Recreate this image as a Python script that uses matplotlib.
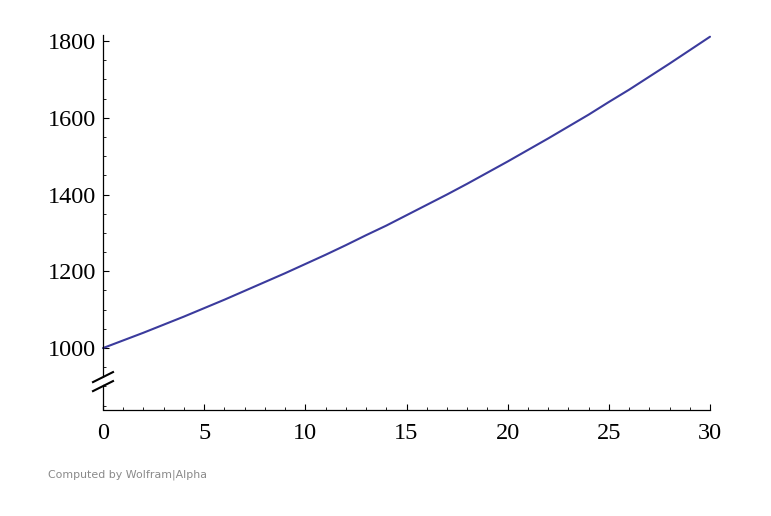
import matplotlib
matplotlib.use("Agg")
import matplotlib.pyplot as plt
from matplotlib.ticker import MultipleLocator
from matplotlib.patches import Polygon

# Values (one per year)
years = list(range(0, 31))
values = [1000, 1020, 1040, 1061, 1082, 1104, 1126, 1149, 1172, 1195,
          1219, 1243, 1268, 1294, 1319, 1346, 1373, 1400, 1428, 1457,
          1486, 1516, 1546, 1577, 1608, 1641, 1673, 1707, 1741, 1776, 1811]
xticks = [0, 5, 10, 15, 20, 25, 30]
yticks = [1000, 1200, 1400, 1600, 1800]

W, H = 771, 516
fig = plt.figure(figsize=(W / 100, H / 100), dpi=100)
left, right, top, bottom = 103, 710, 35.2, 409.5
ax = fig.add_axes([left / W, 1 - bottom / H, (right - left) / W, (bottom - top) / H])

ax.plot(years, values, color="#3b3b9d", lw=1.5, solid_capstyle="round", clip_on=False)
ax.set_xlim(0, 30)
ax.set_ylim(840, 1815)

for s in ["top", "right"]:
    ax.spines[s].set_visible(False)
for s in ["left", "bottom"]:
    ax.spines[s].set_linewidth(0.9)

ax.set_xticks(xticks)
ax.set_yticks(yticks)
ax.xaxis.set_minor_locator(MultipleLocator(1))
ax.yaxis.set_minor_locator(MultipleLocator(50))
ax.tick_params(which="major", direction="in", length=4, width=0.8, labelsize=17.5)
ax.tick_params(which="minor", direction="in", length=2.2, width=0.6)
ax.tick_params(axis="x", which="major", pad=9.5)
ax.tick_params(axis="y", which="major", pad=5)
for lbl in ax.get_xticklabels() + ax.get_yticklabels():
    lbl.set_fontfamily("Liberation Serif")

# axis break marks
def px2x(px):
    return (px - 103) / 607 * 30
def py2y(py):
    return 1000 - (py - 348) / 0.38375

gap = Polygon([(px2x(93), py2y(383)), (px2x(113), py2y(373)),
               (px2x(113), py2y(380)), (px2x(93), py2y(390))],
              closed=True, facecolor="white", edgecolor="none", clip_on=False, zorder=5)
ax.add_patch(gap)
for (y1, y2) in [(382, 372), (391, 381)]:
    ax.plot([px2x(93), px2x(113)], [py2y(y1), py2y(y2)], color="black", lw=1.5,
            clip_on=False, zorder=6)

fig.text(48 / W, 1 - 475 / H, "Computed by Wolfram|Alpha", fontsize=7.9, color="#8a8a8a",
         family="DejaVu Sans", va="center", ha="left")

fig.savefig("out.png", dpi=100)
